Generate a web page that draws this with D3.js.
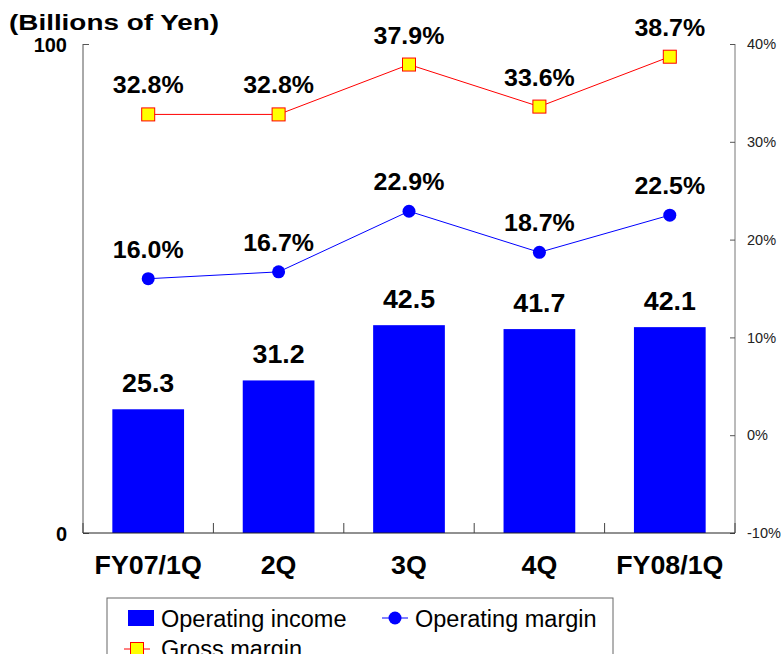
<!DOCTYPE html>
<html>
<head>
<meta charset="utf-8">
<script src="https://cdn.jsdelivr.net/npm/d3@7"></script>
<style>
  body { margin: 0; background: #fff; }
  svg { display: block; font-family: "Liberation Sans", Arial, sans-serif; }
</style>
</head>
<body>
<div id="chart"></div>
<script>
'use strict';

var categories = ["FY07/1Q", "2Q", "3Q", "4Q", "FY08/1Q"];
var operatingIncome = [25.3, 31.2, 42.5, 41.7, 42.1];
var operatingMargin = [16.0, 16.7, 22.9, 18.7, 22.5];
var grossMargin = [32.8, 32.8, 37.9, 33.6, 38.7];
var leftTicks = [0, 100];
var rightTicks = [-10, 0, 10, 20, 30, 40];

var W = 783, H = 654;
var margin = { top: 44, right: 48, bottom: 121, left: 83 };
var width = W - margin.left - margin.right,
  height = H - margin.top - margin.bottom;

var svg = d3.select("#chart").append("svg")
  .attr("width", W)
  .attr("height", H);

var g = svg.append("g")
  .attr("transform", "translate(" + margin.left + "," + margin.top + ")");

var x = d3.scaleBand().domain(categories).range([0, width])
  .paddingInner(0.45).paddingOuter(0.225);
var y = d3.scaleLinear().domain([0, 100]).range([height, 0]);
var y2 = d3.scaleLinear().domain([-10, 40]).range([height, 0]);

function cx(i) {
  return x(categories[i]) + x.bandwidth() / 2;
}

// widen bold labels a little, the original font runs wider
function stretch(sel, f) {
  sel.each(function() {
    var w = this.getComputedTextLength();
    d3.select(this).attr("textLength", w * f).attr("lengthAdjust", "spacingAndGlyphs");
  });
}

// bars
g.selectAll(".bar")
  .data(operatingIncome)
  .enter().append("rect")
  .attr("class", "bar")
  .attr("x", function(d, i) { return x(categories[i]); })
  .attr("y", function(d) { return y(d); })
  .attr("width", x.bandwidth())
  .attr("height", function(d) { return height - y(d); })
  .attr("fill", "#0000ff");

g.selectAll(".barlabel")
  .data(operatingIncome)
  .enter().append("text")
  .attr("x", function(d, i) { return cx(i); })
  .attr("y", function(d) { return y(d) - 17; })
  .attr("text-anchor", "middle")
  .style("font-size", "25.5px")
  .style("font-weight", "bold")
  .text(function(d) { return d.toFixed(1); })
  .call(stretch, 1.05);

// left axis
var yAxis = d3.axisLeft(y).tickValues(leftTicks).tickSize(-6).tickFormat(d3.format("d"));
var ya = g.append("g").call(yAxis);
ya.select(".domain").attr("stroke", "#555").attr("d", "M0,0V" + height);
ya.selectAll(".tick line").attr("stroke", "#555");
ya.selectAll(".tick text")
  .attr("x", -16)
  .attr("dy", "0.36em")
  .attr("fill", "#000")
  .style("font-size", "20px")
  .style("font-weight", "bold");

// right axis
var yAxis2 = d3.axisRight(y2).tickValues(rightTicks).tickSize(-5).tickFormat(function(d) { return d + "%"; });
var ra = g.append("g").attr("transform", "translate(" + width + ",0)").call(yAxis2);
ra.select(".domain").attr("stroke", "#777").attr("d", "M0,0V" + height);
ra.selectAll(".tick line").attr("stroke", "#555");
ra.selectAll(".tick text")
  .attr("x", 12)
  .attr("fill", "#222")
  .style("font-size", "14.5px");

// bottom axis
var bx = g.append("g").attr("transform", "translate(0," + height + ")");
bx.append("line").attr("x1", 0).attr("x2", width).attr("stroke", "#222");
bx.selectAll(".sep")
  .data(d3.range(categories.length + 1))
  .enter().append("line")
  .attr("x1", function(d) { return d * x.step(); })
  .attr("x2", function(d) { return d * x.step(); })
  .attr("y1", 0).attr("y2", -10)
  .attr("stroke", "#444");
bx.selectAll(".xl")
  .data(categories)
  .enter().append("text")
  .attr("x", function(d) { return x(d) + x.bandwidth() / 2; })
  .attr("y", 41)
  .attr("text-anchor", "middle")
  .style("font-size", "25.5px")
  .style("font-weight", "bold")
  .text(function(d) { return d; })
  .call(stretch, 1.05);

// lines
function drawSeries(values, color, kind) {
  var line = d3.line()
    .x(function(d, i) { return cx(i); })
    .y(function(d) { return y2(d); });
  g.append("path")
    .datum(values)
    .attr("fill", "none")
    .attr("stroke", color)
    .attr("stroke-width", 1)
    .attr("d", line);
  if (kind === "circle") {
    g.selectAll(".pt-" + kind)
      .data(values)
      .enter().append("circle")
      .attr("cx", function(d, i) { return cx(i); })
      .attr("cy", function(d) { return y2(d); })
      .attr("r", 6.5)
      .attr("fill", "#0000ff");
  } else {
    g.selectAll(".pt-" + kind)
      .data(values)
      .enter().append("rect")
      .attr("x", function(d, i) { return cx(i) - 6.5; })
      .attr("y", function(d) { return y2(d) - 6.5; })
      .attr("width", 13)
      .attr("height", 13)
      .attr("fill", "#ffff00")
      .attr("stroke", "#ff0000")
      .attr("stroke-width", 1);
  }
  g.selectAll(".lbl-" + kind)
    .data(values)
    .enter().append("text")
    .attr("x", function(d, i) { return cx(i); })
    .attr("y", function(d) { return y2(d) - 21; })
    .attr("text-anchor", "middle")
    .style("font-size", "24px")
    .style("font-weight", "bold")
    .text(function(d) { return d.toFixed(1) + "%"; })
    .call(stretch, 1.04);
}
drawSeries(grossMargin, "#ff0000", "square");
drawSeries(operatingMargin, "#0000ff", "circle");

// title
svg.append("text")
  .attr("x", 9)
  .attr("y", 30)
  .style("font-size", "22px")
  .style("font-weight", "bold")
  .attr("textLength", 210)
  .attr("lengthAdjust", "spacingAndGlyphs")
  .text("(Billions of Yen)");

// legend
var lg = svg.append("g").attr("transform", "translate(107,598)");
lg.append("rect")
  .attr("x", 0).attr("y", 0)
  .attr("width", 506).attr("height", 80)
  .attr("fill", "#fff")
  .attr("stroke", "#666");
lg.append("rect")
  .attr("x", 21).attr("y", 12).attr("width", 26).attr("height", 16)
  .attr("fill", "#0000ff");
lg.append("text").attr("x", 54).attr("y", 29).style("font-size", "23.5px").text("Operating income");
lg.append("line").attr("x1", 275).attr("x2", 301).attr("y1", 20).attr("y2", 20).attr("stroke", "#0000ff");
lg.append("circle").attr("cx", 288).attr("cy", 20).attr("r", 6.5).attr("fill", "#0000ff");
lg.append("text").attr("x", 308).attr("y", 29).style("font-size", "23.5px").text("Operating margin");
lg.append("line").attr("x1", 17).attr("x2", 43).attr("y1", 51).attr("y2", 51).attr("stroke", "#ff0000");
lg.append("rect").attr("x", 23.5).attr("y", 44.5).attr("width", 13).attr("height", 13)
  .attr("fill", "#ffff00").attr("stroke", "#ff0000");
lg.append("text").attr("x", 54).attr("y", 59).style("font-size", "23.5px").text("Gross margin");
</script>
</body>
</html>
